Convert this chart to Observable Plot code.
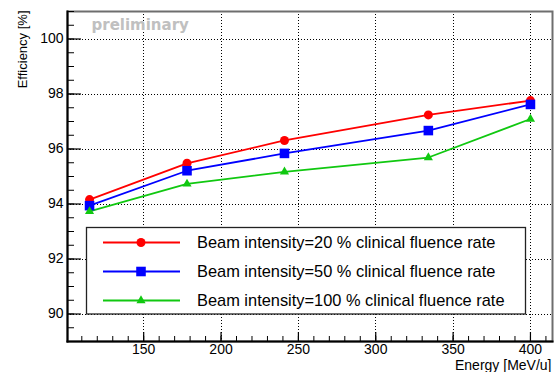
<!DOCTYPE html>
<html>
<head>
<meta charset="utf-8">
<script src="https://cdn.jsdelivr.net/npm/d3@7"></script>
<script src="https://cdn.jsdelivr.net/npm/@observablehq/plot@0.6"></script>
<style>
  html, body { margin: 0; padding: 0; background: #fff; }
  #chart { width: 555px; height: 372px; overflow: hidden; }
</style>
</head>
<body>
<div id="chart"></div>
<script>
// ---- data ----
const energy = [115, 178, 241, 334, 400];
const eff20  = [94.16, 95.48, 96.31, 97.24, 97.76];
const eff50  = [93.94, 95.21, 95.84, 96.67, 97.62];
const eff100 = [93.73, 94.73, 95.17, 95.69, 97.09];
const seriesNames = [
  "Beam intensity=20 % clinical fluence rate",
  "Beam intensity=50 % clinical fluence rate",
  "Beam intensity=100 % clinical fluence rate"
];
const seriesColors = ["#ff0000", "#0000ff", "#10c810"];
const seriesSymbols = ["circle", "square", "triangle"];
const seriesR = [4.5, 5.4, 3.4];
const xMajor = [150, 200, 250, 300, 350, 400];
const yMajor = [90, 92, 94, 96, 98, 100];
const xDomain = [100.75, 414.25];
const yDomain = [89, 101];
const xMinor = d3.range(110, 414, 10);
const yMinor = d3.range(89, 101.01, 0.5);

const allSeries = [eff20, eff50, eff100];
const rows = [];
allSeries.forEach((vals, s) => vals.forEach((v, i) => rows.push({energy: energy[i], eff: v, series: seriesNames[s]})));

const font = "'Liberation Sans', Arial, Helvetica, sans-serif";
const blank = () => "";

const plot = Plot.plot({
  width: 555,
  height: 372,
  marginLeft: 67,
  marginTop: 11,
  marginRight: 3,
  marginBottom: 31,
  style: {fontFamily: font, background: "#fff", overflow: "visible"},
  x: {domain: xDomain, label: null},
  y: {domain: yDomain, label: null},
  color: {domain: seriesNames, range: seriesColors},
  marks: [
    Plot.gridX(xMajor, {stroke: "#000", strokeOpacity: 1, strokeWidth: 1, strokeDasharray: "1,2", shapeRendering: "crispEdges"}),
    Plot.gridY(yMajor, {stroke: "#000", strokeOpacity: 1, strokeWidth: 1, strokeDasharray: "1,2", shapeRendering: "crispEdges"}),
    Plot.frame({stroke: "#6e6e6e", strokeWidth: 2}),
    Plot.frame({anchor: "left", stroke: "#000", strokeWidth: 2}),
    Plot.frame({anchor: "bottom", stroke: "#000", strokeWidth: 2}),
    // inward ticks
    Plot.axisY(yMinor, {tickSize: -7, tickFormat: blank, label: null, stroke: "#000", strokeWidth: 1}),
    Plot.axisY(yMajor, {tickSize: -14, tickFormat: blank, label: null, stroke: "#000", strokeWidth: 1.2}),
    Plot.axisX(xMinor, {tickSize: -5, tickFormat: blank, label: null, stroke: "#000", strokeWidth: 1}),
    Plot.axisX(xMajor, {tickSize: -9, tickFormat: blank, label: null, stroke: "#000", strokeWidth: 1.2}),
    // tick labels
    Plot.axisY(yMajor, {tickSize: 0, tickPadding: 4, label: null, fontSize: 14, fill: "#000"}),
    Plot.axisX(xMajor, {tickSize: 0, tickPadding: 3, label: null, fontSize: 14, fill: "#000"}),
    // axis titles
    Plot.text(["Efficiency [%]"], {frameAnchor: "top-left", dx: -45, dy: -1, rotate: -90, textAnchor: "end", lineAnchor: "middle", fontSize: 13, fill: "#000"}),
    Plot.text(["Energy [MeV/u]"], {frameAnchor: "bottom-right", dx: -1, dy: 24.5, textAnchor: "end", lineAnchor: "middle", fontSize: 14, fill: "#000"}),
    Plot.text(["preliminary"], {frameAnchor: "top-left", dx: 24, dy: 13.5, textAnchor: "start", lineAnchor: "middle", fontSize: 15, fontWeight: "bold", fontFamily: "'DejaVu Sans', sans-serif", fill: "#c0c0c0"}),
    // data
    Plot.line(rows, {x: "energy", y: "eff", stroke: "series", z: "series", strokeWidth: 1.8}),
    ...seriesNames.map((name, s) => Plot.dot(rows.filter(r => r.series === name), {x: "energy", y: "eff", fill: seriesColors[s], stroke: "none", symbol: seriesSymbols[s], r: seriesR[s]}))
  ]
});

document.getElementById("chart").appendChild(plot);

// ---- legend (inside the svg) ----
const svg = d3.select(plot);
const lg = svg.append("g").attr("class", "legend").attr("text-anchor", "start");
const box = {x: 86.5, y: 227.5, w: 439, h: 86.5};
lg.append("rect").attr("x", box.x).attr("y", box.y).attr("width", box.w).attr("height", box.h)
  .attr("fill", "#fff").attr("stroke", "#222").attr("stroke-width", 1.3);
const rowY = [242.5, 271.5, 300.5];
seriesNames.forEach((name, s) => {
  const y = rowY[s];
  lg.append("line").attr("x1", 103).attr("x2", 180).attr("y1", y).attr("y2", y)
    .attr("stroke", seriesColors[s]).attr("stroke-width", 1.8);
  lg.append("path").attr("transform", `translate(141,${y})`)
    .attr("d", d3.symbol(s === 0 ? d3.symbolCircle : s === 1 ? d3.symbolSquare : d3.symbolTriangle, Math.PI * seriesR[s] * seriesR[s])())
    .attr("fill", seriesColors[s]);
  lg.append("text").attr("x", 197).attr("y", y).attr("dy", "0.36em").attr("text-anchor", "start")
    .attr("font-size", 16.4).attr("font-family", font).attr("fill", "#000").text(name);
});
</script>
</body>
</html>
